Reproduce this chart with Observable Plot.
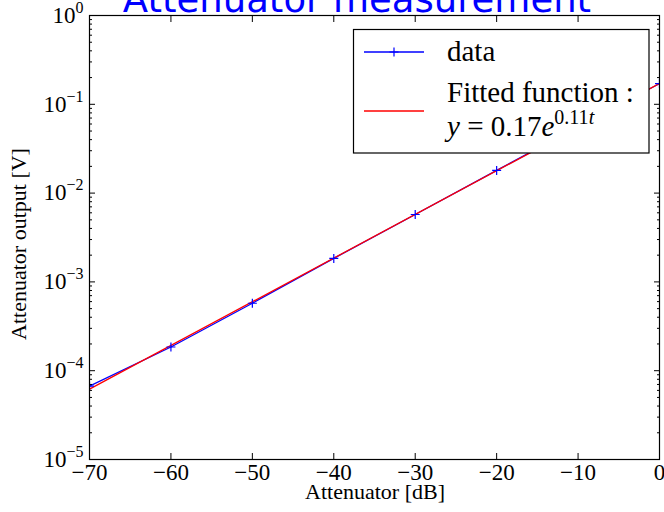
<!DOCTYPE html>
<html><head><meta charset="utf-8">
<script src="https://cdn.jsdelivr.net/npm/d3@7"></script>
<script src="https://cdn.jsdelivr.net/npm/@observablehq/plot@0.6"></script>
<style>
html,body{margin:0;padding:0;background:#fff;}
#chart{position:relative;width:664px;height:512px;overflow:hidden;}
</style></head><body><div id="chart"></div>
<script>
// ---- data ----
const attenuation = [-70, -60, -50, -40, -30, -20, -10, 0];
const output = [6.7e-5, 1.85e-4, 5.75e-4, 1.84e-3, 5.74e-3, 0.0180, 0.056, 0.171];
const fitT = [-70, 0];
const fitY = [6.2e-5, 0.172];
const xTicks = [-70, -60, -50, -40, -30, -20, -10, 0];
const yTicks = [1e-5, 1e-4, 1e-3, 1e-2, 1e-1, 1];
const yMinorTicks = d3.range(-5, 0).flatMap(e => d3.range(2, 10).map(m => m * 10 ** e));
const titleText = "Attenuator measurement";
const xLabel = "Attenuator [dB]";
const yLabel = "Attenuator output [V]";
const legendData = "data";
const legendFit = "Fitted function :";

const pts = attenuation.map((t, i) => ({t, v: output[i]}));
const fit = fitT.map((t, i) => ({t, v: fitY[i]}));

const plusSymbol = {
  draw(ctx, size) {
    const r = Math.sqrt(size / Math.PI);
    ctx.moveTo(-r, 0); ctx.lineTo(r, 0);
    ctx.moveTo(0, -r); ctx.lineTo(0, r);
  }
};

const blank = () => "";
const plot = Plot.plot({
  width: 664, height: 512,
  marginLeft: 89, marginRight: 5, marginTop: 15, marginBottom: 53,
  style: {fontFamily: "'Liberation Serif', serif", fontSize: "23px", color: "black", background: "white", overflow: "visible"},
  x: {domain: [-70, 0]},
  y: {type: "log", domain: [1e-5, 1]},
  marks: [
    Plot.line(pts, {x: "t", y: "v", stroke: "#0000ff", strokeWidth: 1.3, clip: true}),
    Plot.line(fit, {x: "t", y: "v", stroke: "#ff0000", strokeWidth: 1.3, clip: true}),
    Plot.dot(pts, {x: "t", y: "v", symbol: plusSymbol, r: 4.5, stroke: "#0000ff", fill: "none", strokeWidth: 1.2, clip: true}),
    Plot.axisX(xTicks, {anchor: "bottom", tickSize: -6, tickPadding: 10, label: null, tickFormat: d => d3.format("d")(d)}),
    Plot.axisX(xTicks, {anchor: "top", tickSize: -6, tickFormat: blank, label: null}),
    Plot.axisY(yTicks, {anchor: "left", tickSize: -6, tickPadding: 12, label: null, tickFormat: d => String(Math.round(Math.log10(d)))}),
    Plot.axisY(yMinorTicks, {anchor: "left", tickSize: -3, tickFormat: blank, label: null}),
    Plot.axisY(yTicks, {anchor: "right", tickSize: -6, tickFormat: blank, label: null}),
    Plot.axisY(yMinorTicks, {anchor: "right", tickSize: -3, tickFormat: blank, label: null}),
    Plot.frame({stroke: "black", strokeWidth: 1.2})
  ]
});

const svg = d3.select(plot);
// superscript exponents on y tick labels
svg.selectAll('g[aria-label="y-axis tick label"] text').each(function () {
  const s = this.textContent;
  if (!s) return;
  const sel = d3.select(this);
  sel.text(null);
  sel.append("tspan").text("10");
  sel.append("tspan").attr("dy", -10).attr("font-size", 16).text(s.replace("-", "\u2212"));
});

// title
svg.append("text").attr("x", 357).attr("y", 12).attr("text-anchor", "middle")
  .attr("font-family", "'DejaVu Sans', sans-serif").attr("font-size", 37).attr("fill", "#0000ff")
  .text(titleText);
// axis labels
svg.append("text").attr("x", 375).attr("y", 499).attr("text-anchor", "middle")
  .attr("font-family", "'Liberation Serif', serif").attr("font-size", 22).attr("fill", "black")
  .text(xLabel);
svg.append("text").attr("transform", "translate(26,244) rotate(-90)").attr("text-anchor", "middle")
  .attr("font-family", "'Liberation Serif', serif").attr("font-size", 22).attr("fill", "black")
  .text(yLabel);

// legend
const lg = svg.append("g").attr("font-family", "'Liberation Serif', serif").attr("font-size", 29)
  .attr("fill", "black").attr("text-anchor", "start");
lg.append("rect").attr("x", 353.5).attr("y", 29.5).attr("width", 295.5).attr("height", 123.5)
  .attr("fill", "white").attr("stroke", "black").attr("stroke-width", 1.2);
lg.append("line").attr("x1", 364).attr("x2", 424).attr("y1", 52).attr("y2", 52).attr("stroke", "#0000ff").attr("stroke-width", 1.3);
lg.append("path").attr("d", "M389.5,52H398.5M394,47.5V56.5").attr("stroke", "#0000ff").attr("stroke-width", 1.2);
lg.append("text").attr("x", 447).attr("y", 60.5).text(legendData);
lg.append("line").attr("x1", 364).attr("x2", 424).attr("y1", 111).attr("y2", 111).attr("stroke", "#ff0000").attr("stroke-width", 1.3);
lg.append("text").attr("x", 447).attr("y", 102).text(legendFit);
const f = lg.append("text").attr("x", 447).attr("y", 136);
f.append("tspan").attr("font-style", "italic").text("y");
f.append("tspan").text(" = 0.17");
f.append("tspan").attr("font-style", "italic").text("e");
f.append("tspan").attr("dy", -12).attr("font-size", 20).text("0.11");
f.append("tspan").attr("font-size", 20).attr("font-style", "italic").text("t");

document.getElementById("chart").appendChild(plot);
</script></body></html>
